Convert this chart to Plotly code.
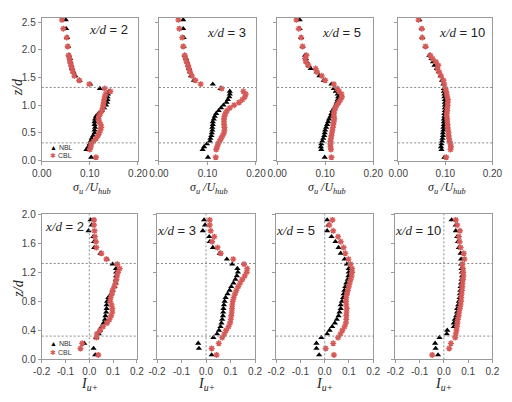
import plotly.graph_objects as go

# ---------------- data ----------------
Z_TOP = [0.06, 0.20, 0.25, 0.30, 0.35, 0.40, 0.45, 0.50, 0.55, 0.60, 0.65, 0.70, 0.75,
         0.80, 0.85, 0.90, 0.95, 1.00, 1.05, 1.10, 1.15, 1.20, 1.25, 1.30, 1.38, 1.45,
         1.53, 1.60, 1.66, 1.72, 1.78, 1.84, 1.90, 2.06, 2.22, 2.38, 2.54]
Z_BOT = [0.06, 0.15, 0.22, 0.30, 0.35, 0.40, 0.45, 0.50, 0.55, 0.60, 0.65, 0.70, 0.75,
         0.80, 0.85, 0.90, 0.95, 1.00, 1.05, 1.10, 1.15, 1.20, 1.25, 1.31, 1.38, 1.46,
         1.54, 1.62, 1.69, 1.77, 1.85, 1.92]

XD_LABELS = ["2", "3", "5", "10"]

# sigma_u / U_hub
SU_NBL_2 = [0.103, 0.093, 0.097, 0.100, 0.102, 0.104, 0.107, 0.110, 0.110, 0.111, 0.110, 0.110, 0.111,
            0.113, 0.118, 0.125, 0.130, 0.134, 0.136, 0.137, 0.137, 0.138, 0.140, 0.121, 0.101, 0.079,
            0.070, 0.066, 0.063, 0.062, 0.060, 0.059, 0.057, 0.055, 0.053, 0.051, 0.050]
SU_CBL_2 = [0.113, 0.100, 0.102, 0.103, 0.108, 0.113, 0.117, 0.120, 0.122, 0.124, 0.123, 0.120, 0.118,
            0.119, 0.122, 0.125, 0.127, 0.128, 0.129, 0.130, 0.131, 0.133, 0.143, 0.131, 0.099, 0.078,
            0.068, 0.065, 0.063, 0.061, 0.059, 0.058, 0.056, 0.054, 0.052, 0.045, 0.042]
SU_NBL_3 = [0.101, 0.090, 0.093, 0.099, 0.105, 0.106, 0.108, 0.109, 0.110, 0.110, 0.111, 0.111, 0.113,
            0.115, 0.118, 0.123, 0.128, 0.133, 0.139, 0.142, 0.145, 0.146, 0.146, 0.127, 0.111, 0.072,
            0.066, 0.064, 0.062, 0.060, 0.058, 0.056, 0.053, 0.051, 0.051, 0.050, 0.050]
SU_CBL_3 = [0.117, 0.118, 0.120, 0.122, 0.125, 0.128, 0.131, 0.134, 0.135, 0.135, 0.134, 0.134, 0.134,
            0.135, 0.137, 0.140, 0.146, 0.155, 0.165, 0.172, 0.177, 0.179, 0.174, 0.129, 0.086, 0.075,
            0.068, 0.064, 0.062, 0.060, 0.057, 0.055, 0.053, 0.050, 0.048, 0.042, 0.040]
SU_NBL_5 = [0.099, 0.092, 0.091, 0.092, 0.094, 0.096, 0.098, 0.099, 0.100, 0.102, 0.104, 0.106, 0.108,
            0.111, 0.113, 0.115, 0.119, 0.122, 0.124, 0.126, 0.127, 0.126, 0.122, 0.118, 0.113, 0.097,
            0.088, 0.082, 0.070, 0.065, 0.062, 0.060, 0.058, 0.053, 0.050, 0.047, 0.047]
SU_CBL_5 = [0.113, 0.112, 0.111, 0.111, 0.111, 0.112, 0.113, 0.114, 0.115, 0.116, 0.117, 0.118, 0.119,
            0.118, 0.118, 0.119, 0.121, 0.124, 0.128, 0.132, 0.135, 0.134, 0.129, 0.125, 0.118, 0.100,
            0.093, 0.083, 0.080, 0.065, 0.060, 0.058, 0.061, 0.053, 0.050, 0.045, 0.040]
SU_NBL_10 = [0.098, 0.092, 0.091, 0.092, 0.093, 0.094, 0.095, 0.095, 0.096, 0.096, 0.097, 0.097, 0.097,
             0.098, 0.098, 0.099, 0.099, 0.099, 0.099, 0.099, 0.098, 0.098, 0.097, 0.097, 0.096, 0.093,
             0.090, 0.086, 0.082, 0.077, 0.074, 0.071, 0.066, 0.058, 0.051, 0.050, 0.045]
SU_CBL_10 = [0.102, 0.111, 0.112, 0.111, 0.109, 0.108, 0.107, 0.107, 0.106, 0.105, 0.105, 0.104, 0.104,
             0.103, 0.103, 0.104, 0.104, 0.105, 0.105, 0.106, 0.104, 0.103, 0.102, 0.100, 0.098, 0.096,
             0.091, 0.087, 0.083, 0.085, 0.080, 0.073, 0.068, 0.058, 0.051, 0.050, 0.043]

# I_u+
IU_NBL_2 = [0.025, 0.018, -0.021, 0.029, 0.040, 0.045, 0.052, 0.060, 0.066, 0.068, 0.071, 0.073, 0.073,
            0.075, 0.080, 0.092, 0.098, 0.106, 0.111, 0.112, 0.113, 0.113, 0.112, 0.098, 0.074, 0.047,
            0.021, 0.020, 0.017, -0.003, 0.010, 0.006]
IU_CBL_2 = [0.038, -0.037, -0.030, 0.030, 0.032, 0.045, 0.058, 0.075, 0.085, 0.092, 0.097, 0.097, 0.094,
            0.088, 0.090, 0.095, 0.098, 0.105, 0.110, 0.114, 0.117, 0.121, 0.128, 0.118, 0.072, 0.051,
            0.030, 0.028, 0.024, 0.022, 0.020, 0.020]
IU_NBL_3 = [0.023, -0.029, -0.032, 0.030, 0.045, 0.053, 0.059, 0.063, 0.066, 0.069, 0.070, 0.071, 0.073,
            0.076, 0.080, 0.088, 0.096, 0.103, 0.112, 0.120, 0.126, 0.130, 0.128, 0.107, 0.085, 0.056,
            0.028, 0.015, 0.013, -0.013, -0.004, -0.008]
IU_CBL_3 = [0.043, 0.023, 0.052, 0.066, 0.075, 0.082, 0.092, 0.098, 0.101, 0.103, 0.105, 0.106, 0.107,
            0.109, 0.113, 0.118, 0.124, 0.131, 0.139, 0.148, 0.158, 0.166, 0.168, 0.155, 0.111, 0.060,
            0.047, 0.025, 0.034, 0.019, 0.015, 0.015]
IU_NBL_5 = [-0.023, -0.034, -0.034, -0.014, 0.010, 0.020, 0.031, 0.042, 0.050, 0.057, 0.061, 0.066, 0.066,
            0.071, 0.076, 0.078, 0.081, 0.085, 0.089, 0.095, 0.098, 0.099, 0.099, 0.091, 0.082, 0.066,
            0.057, 0.044, 0.028, 0.010, 0.015, 0.010]
IU_CBL_5 = [0.038, 0.004, 0.035, 0.055, 0.065, 0.073, 0.082, 0.087, 0.089, 0.089, 0.090, 0.091, 0.089,
            0.088, 0.089, 0.092, 0.096, 0.099, 0.103, 0.107, 0.111, 0.113, 0.113, 0.106, 0.098, 0.085,
            0.078, 0.066, 0.055, 0.035, 0.019, 0.032]
IU_NBL_10 = [-0.024, -0.034, -0.036, -0.018, 0.012, 0.014, 0.041, 0.041, 0.045, 0.051, 0.054, 0.055, 0.059,
             0.062, 0.065, 0.066, 0.068, 0.069, 0.071, 0.073, 0.075, 0.074, 0.073, 0.071, 0.071, 0.069,
             0.062, 0.058, 0.055, 0.049, 0.049, 0.032]
IU_CBL_10 = [-0.048, 0.022, 0.029, 0.047, 0.049, 0.052, 0.054, 0.056, 0.058, 0.061, 0.063, 0.066, 0.069,
             0.071, 0.072, 0.073, 0.075, 0.076, 0.077, 0.079, 0.081, 0.080, 0.079, 0.076, 0.085, 0.082,
             0.069, 0.065, 0.062, 0.066, 0.055, 0.049]

ROTOR_LINES_Z = [0.32, 1.32]   # dotted reference heights

TOP_XTICKS = [0.0, 0.1, 0.2]
TOP_XTICKTEXT = ["0.00", "0.10", "0.20"]
TOP_YTICKS = [0.0, 0.5, 1.0, 1.5, 2.0, 2.5]
TOP_YTICKTEXT = ["0.0", "0.5", "1.0", "1.5", "2.0", "2.5"]
BOT_XTICKS = [-0.2, -0.1, 0.0, 0.1, 0.2]
BOT_XTICKTEXT = ["-0.2", "-0.1", "0.0", "0.1", "0.2"]
BOT_YTICKS = [0.0, 0.4, 0.8, 1.2, 1.6, 2.0]
BOT_YTICKTEXT = ["0.0", "0.4", "0.8", "1.2", "1.6", "2.0"]

TOP_NBL = [SU_NBL_2, SU_NBL_3, SU_NBL_5, SU_NBL_10]
TOP_CBL = [SU_CBL_2, SU_CBL_3, SU_CBL_5, SU_CBL_10]
BOT_NBL = [IU_NBL_2, IU_NBL_3, IU_NBL_5, IU_NBL_10]
BOT_CBL = [IU_CBL_2, IU_CBL_3, IU_CBL_5, IU_CBL_10]

# ---------------- layout geometry ----------------
W, H = 512, 402
TOP_COLS = [(33, 133), (155, 256), (278, 378), (404, 502)]
BOT_COLS = [(33, 132), (153, 255), (277, 378), (401, 502)]
TOP_ROW = (160, 13)
BOT_ROW = (364.3, 215)

RED = "#d65a58"
AXC = "#9a9a9a"
TICKFONT = dict(family="Liberation Sans", size=10, color="#404040")

fig = go.Figure()
layout = dict(width=W, height=H, margin=dict(l=0, r=0, t=0, b=0),
              paper_bgcolor="white", plot_bgcolor="white", showlegend=False)
shapes, annotations = [], []


def fx(px):
    return px / W


def fy(py):
    return (H - py) / H


def add_panel(n, cols, row, xs_nbl, xs_cbl, zs, top, idx):
    xa, ya = f"xaxis{n}" if n > 1 else "xaxis", f"yaxis{n}" if n > 1 else "yaxis"
    xr, yr = f"x{n}" if n > 1 else "x", f"y{n}" if n > 1 else "y"
    fig.add_trace(go.Scatter(x=xs_nbl, y=zs, mode="markers", xaxis=xr, yaxis=yr, name="NBL",
                             marker=dict(symbol="triangle-up", size=5.5, color="black")))
    fig.add_trace(go.Scatter(x=xs_cbl, y=zs, mode="markers", xaxis=xr, yaxis=yr, name="CBL",
                             marker=dict(symbol="asterisk-open", size=5, color=RED,
                                         line=dict(color=RED, width=1.4))))
    common = dict(showline=True, linecolor=AXC, linewidth=1, mirror=True, ticks="outside",
                  ticklen=3, tickcolor=AXC, showgrid=False, zeroline=False, tickfont=TICKFONT)
    if top:
        layout[xa] = dict(domain=[fx(cols[0]), fx(cols[1])], anchor=yr, range=[0, 0.2],
                          tickvals=TOP_XTICKS, ticktext=TOP_XTICKTEXT, **common)
        layout[ya] = dict(domain=[fy(row[0]), fy(row[1])], anchor=xr, range=[0, 2.58],
                          tickvals=TOP_YTICKS, ticktext=TOP_YTICKTEXT,
                          showticklabels=(idx == 0), **common)
    else:
        layout[xa] = dict(domain=[fx(cols[0]), fx(cols[1])], anchor=yr, range=[-0.2, 0.2],
                          tickvals=BOT_XTICKS, ticktext=BOT_XTICKTEXT, **common)
        layout[ya] = dict(domain=[fy(row[0]), fy(row[1])], anchor=xr, range=[0, 2.0],
                          tickvals=BOT_YTICKS, ticktext=BOT_YTICKTEXT,
                          showticklabels=(idx == 0), **common)
        shapes.append(dict(type="line", xref=xr, yref=f"{yr} domain", x0=0, x1=0, y0=0, y1=1,
                           line=dict(color="#8a8a8a", width=1, dash="2px,2px")))
    for z in ROTOR_LINES_Z:
        shapes.append(dict(type="line", xref=f"{xr} domain", yref=yr, x0=0, x1=1, y0=z, y1=z,
                           line=dict(color="#8a8a8a", width=1, dash="2px,2px")))


for i in range(4):
    add_panel(i + 1, TOP_COLS[i], TOP_ROW, TOP_NBL[i], TOP_CBL[i], Z_TOP, True, i)
for i in range(4):
    add_panel(i + 5, BOT_COLS[i], BOT_ROW, BOT_NBL[i], BOT_CBL[i], Z_BOT, False, i)

SERIF = "Liberation Serif"
SANS = "Liberation Sans"


def ann(px, py, text, font, **kw):
    d = dict(x=fx(px), y=fy(py), xref="paper", yref="paper", text=text, showarrow=False,
             xanchor="center", yanchor="middle", font=font)
    d.update(kw)
    annotations.append(d)


def xd_text(v):
    return f"<i>x/d</i><span style='font-family:{SANS}'> = {v}</span>"


TOP_XD_POS = [(103, 25), (225, 28), (345, 28), (470, 28)]
BOT_XD_POS = [(57, 228), (173, 232), (297, 232), (425, 232)]
XD_FONT = dict(family=SERIF, size=13, color="#222")
for (px, py), v in zip(TOP_XD_POS + BOT_XD_POS, XD_LABELS + XD_LABELS):
    ann(px, py, xd_text(v), XD_FONT)

# axis titles
TITLE_FONT = dict(family=SERIF, size=14, color="#222")
for py in (85, 292):
    ann(8, py, "<i>z/d</i>", TITLE_FONT, textangle=-90)
for (a, b) in TOP_COLS:
    ann((a + b) / 2 + 2, 188, "<i>σ<sub>u</sub> /U<sub>hub</sub></i>",
        dict(family=SERIF, size=12, color="#222"))
for (a, b) in BOT_COLS:
    ann((a + b) / 2, 390, "<i>I<sub>u+</sub></i>", TITLE_FONT)

# legends (panel 1 of each row)
LEG_FONT = dict(family=SANS, size=7, color="#333")
for (py1, py2) in ((147, 155), (348, 357)):
    ann(40, py1, "<span style='color:black'>▲</span> NBL", LEG_FONT, xanchor="left")
    ann(40, py2, f"<span style='color:{RED}'>✱</span> CBL", LEG_FONT, xanchor="left")

layout["shapes"] = shapes
layout["annotations"] = annotations
fig.update_layout(**layout)
fig.write_html("out.html")
